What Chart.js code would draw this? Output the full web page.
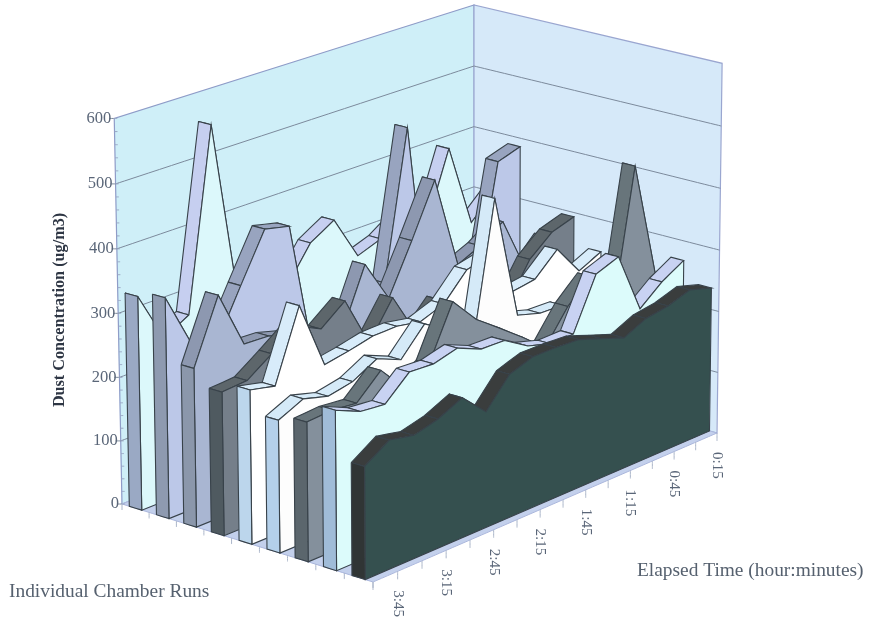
<!DOCTYPE html>
<html>
<head>
<meta charset="utf-8">
<title>Dust Concentration</title>
<script src="https://cdn.jsdelivr.net/npm/chart.js@4/dist/chart.umd.min.js"></script>
<style>
  html, body { margin: 0; padding: 0; background: #fff; }
  canvas { display: block; }
</style>
</head>
<body>
<canvas id="dustChart" width="870" height="620"></canvas>
<script>
const timeLabels = ['4:00', '3:45', '3:30', '3:15', '3:00', '2:45', '2:30', '2:15', '2:00', '1:45', '1:30', '1:15', '1:00', '0:45', '0:30', '0:15'];
const valueTicks = [0, 100, 200, 300, 400, 500, 600];

// dust readings, back run first
const run1 = [335, 256, 278, 561, 272, 256, 267, 323, 346, 275, 289, 315, 285, 397, 262, 298];
const run2 = [345, 260, 245, 322, 397, 388, 155, 159, 162, 243, 480, 120, 119, 172, 374, 386];
const run3 = [248, 347, 257, 255, 244, 229, 216, 312, 244, 323, 407, 257, 274, 300, 211, 249];
const run4 = [224, 227, 254, 283, 264, 294, 213, 271, 200, 240, 186, 172, 190, 250, 281, 293];
const run5 = [240, 231, 341, 235, 242, 251, 252, 245, 259, 300, 309, 237, 243, 278, 229, 247];
const run6 = [206, 224, 213, 221, 242, 226, 268, 244, 192, 425, 225, 214, 213, 184, 170, 150];
const run7 = [216, 219, 215, 251, 208, 232, 315, 273, 245, 216, 185, 237, 272, 194, 423, 230];
const run8 = [247, 230, 226, 261, 259, 269, 253, 252, 229, 218, 219, 301, 315, 217, 247, 268];
const run9 = [174, 199, 191, 201, 219, 182, 226, 239, 239, 237, 224, 211, 228, 234, 246, 235];
const runs = [run1, run2, run3, run4, run5, run6, run7, run8, run9];

const capColors = ['#9aa9c4', '#8e9ab0', '#8b97ab', '#4f5a60', '#bcd6ec', '#b4d0ea', '#5b666d', '#a0bcd8', '#303535'];
const topColors = ['#c6cff0', '#98a4bf', '#8d98b0', '#5d666b', '#d8ecfa', '#d5eaf8', '#68757b', '#c8d2f2', '#3a3d3d'];
const faceColors = ['#dcf8fb', '#bcc8e8', '#a9b6d2', '#757f8a', '#ffffff', '#fdfdfd', '#84909c', '#dcfbfb', '#35504f'];

const yMax = 600;
const lastT = timeLabels.length - 1;

// the picture is a perspective box, these are its corners on the page
const cFront = [373, 582, 1], cLeft = [122, 504, 1], cRight = [717, 433, 1], cBack = [474, 365, 1];
const backTopY = 5, lean = -0.02;

function det(a, b, c) {
    return a[0] * (b[1] * c[2] - b[2] * c[1]) - a[1] * (b[0] * c[2] - b[2] * c[0]) + a[2] * (b[0] * c[1] - b[1] * c[0]);
}
const d0 = det(cLeft, cRight, cFront);
const wLeft = det(cBack, cRight, cFront) / d0;
const wRight = det(cLeft, cBack, cFront) / d0;
const wFront = -det(cLeft, cRight, cBack) / d0;
const pO = cFront.map(c => c * wFront);
const pU = cLeft.map(c => c * wLeft);
const pT = cRight.map(c => c * wRight);
const pW = [cBack[0] * lean, backTopY * (1 + lean) - cBack[1], lean];

// r: 0 left end to 1 front corner, t: 0 at 4:00 to 1 at 0:15, v: data value
function project(r, t, v) {
    const u = 1 - r, h = v / yMax;
    const p = [0, 1, 2].map(n => pO[n] + u * (pU[n] - pO[n]) + t * (pT[n] - pO[n]) + h * pW[n]);
    return { x: p[0] / p[2], y: p[1] / p[2] };
}

const datasets = [];
function addShape(points, fill, border, width) {
    datasets.push({
        data: points,
        showLine: true,
        fill: fill ? 'shape' : false,
        backgroundColor: fill || 'transparent',
        borderColor: border,
        borderWidth: width,
        pointRadius: 0,
        tension: 0.0001,
        order: -datasets.length
    });
}

// walls and floor
addShape([project(0, 0, 0), project(0, 1, 0), project(0, 1, yMax), project(0, 0, yMax), project(0, 0, 0)], '#cfeff8', '#8f9cc8', 1.2);
addShape([project(0, 1, 0), project(1, 1, 0), project(1, 1, yMax), project(0, 1, yMax), project(0, 1, 0)], '#d6e9f9', '#9aa6d0', 1.2);
addShape([project(0, 0, 0), project(1, 0, 0), project(1, 1, 0), project(0, 1, 0), project(0, 0, 0)], '#c3d0ec', '#aab6dc', 1);

// gridlines on both walls
valueTicks.slice(1, -1).forEach(v => {
    addShape([project(0, 0, v), project(0, 1, v), project(1, 1, v)], null, '#7c8a9c', 1);
});

// ticks
valueTicks.forEach(v => {
    const p = project(0, 0, v);
    addShape([p, { x: p.x - 5, y: p.y }], null, '#7c8a9c', 1);
});
for (let v = 0; v <= yMax; v += 20) {
    const p = project(0, 0, v);
    addShape([p, { x: p.x + 3, y: p.y }], null, '#9aa6c4', 1);
}
timeLabels.forEach((lab, i) => {
    const p = project(1, i / lastT, 0);
    addShape([p, { x: p.x, y: p.y + 8 }], null, '#a9b4c8', 1);
});
for (let k = 0; k < 10; k++) {
    const p = project(k / 9, 0, 0);
    addShape([p, { x: p.x, y: p.y + 6 }], null, '#a9b4c8', 1);
}

// ribbons, back to front
const edge = '#38424a';
runs.forEach((vals, k) => {
    const rBack = (k + 0.27) / 9, rFront = (k + 0.73) / 9;
    for (let i = vals.length - 2; i >= 0; i--) {
        const t0 = i / lastT, t1 = (i + 1) / lastT;
        addShape([project(rBack, t0, vals[i]), project(rFront, t0, vals[i]), project(rFront, t1, vals[i + 1]),
            project(rBack, t1, vals[i + 1]), project(rBack, t0, vals[i])], topColors[k], edge, 1.1);
    }
    const face = vals.map((v, i) => project(rFront, i / lastT, v));
    face.push(project(rFront, 1, 0), project(rFront, 0, 0), face[0]);
    addShape(face, faceColors[k], edge, 1.1);
    addShape([project(rBack, 0, vals[0]), project(rFront, 0, vals[0]), project(rFront, 0, 0), project(rBack, 0, 0),
        project(rBack, 0, vals[0])], capColors[k], edge, 1.1);
});

const axisText = {
    id: 'axisText',
    afterDraw(chart) {
        const ctx = chart.ctx;
        ctx.save();
        ctx.fillStyle = '#5a6678';
        ctx.font = '16.5px "Liberation Serif"';
        ctx.textAlign = 'right';
        ctx.textBaseline = 'middle';
        valueTicks.forEach(v => {
            const p = project(0, 0, v);
            ctx.fillText(String(v), p.x - 3, p.y);
        });
        ctx.font = '15px "Liberation Serif"';
        timeLabels.forEach((lab, i) => {
            if (i % 2 === 0) return;
            const p = project(1, i / lastT, 0);
            ctx.save();
            ctx.translate(p.x, p.y + 19);
            ctx.rotate(Math.PI / 2);
            ctx.textAlign = 'left';
            ctx.fillText(lab, 0, 0);
            ctx.restore();
        });
        ctx.fillStyle = '#56616f';
        ctx.textAlign = 'left';
        ctx.font = '19.4px "Liberation Serif"';
        ctx.fillText('Individual Chamber Runs', 9, 592);
        ctx.fillText('Elapsed Time (hour:minutes)', 637, 571);
        ctx.save();
        ctx.translate(60, 310);
        ctx.rotate(-Math.PI / 2);
        ctx.textAlign = 'center';
        ctx.fillStyle = '#2e3644';
        ctx.font = 'bold 16.2px "Liberation Serif"';
        ctx.fillText('Dust Concentration (ug/m3)', 0, 0);
        ctx.restore();
        ctx.restore();
    }
};

new Chart(document.getElementById('dustChart'), {
    type: 'scatter',
    data: { datasets: datasets },
    plugins: [axisText],
    options: {
        responsive: false,
        animation: false,
        layout: { padding: 0 },
        plugins: { legend: { display: false }, tooltip: { enabled: false } },
        scales: {
            x: { type: 'linear', min: 0, max: 870, display: false },
            y: { type: 'linear', min: 0, max: 620, reverse: true, display: false }
        }
    }
});
</script>
</body>
</html>
